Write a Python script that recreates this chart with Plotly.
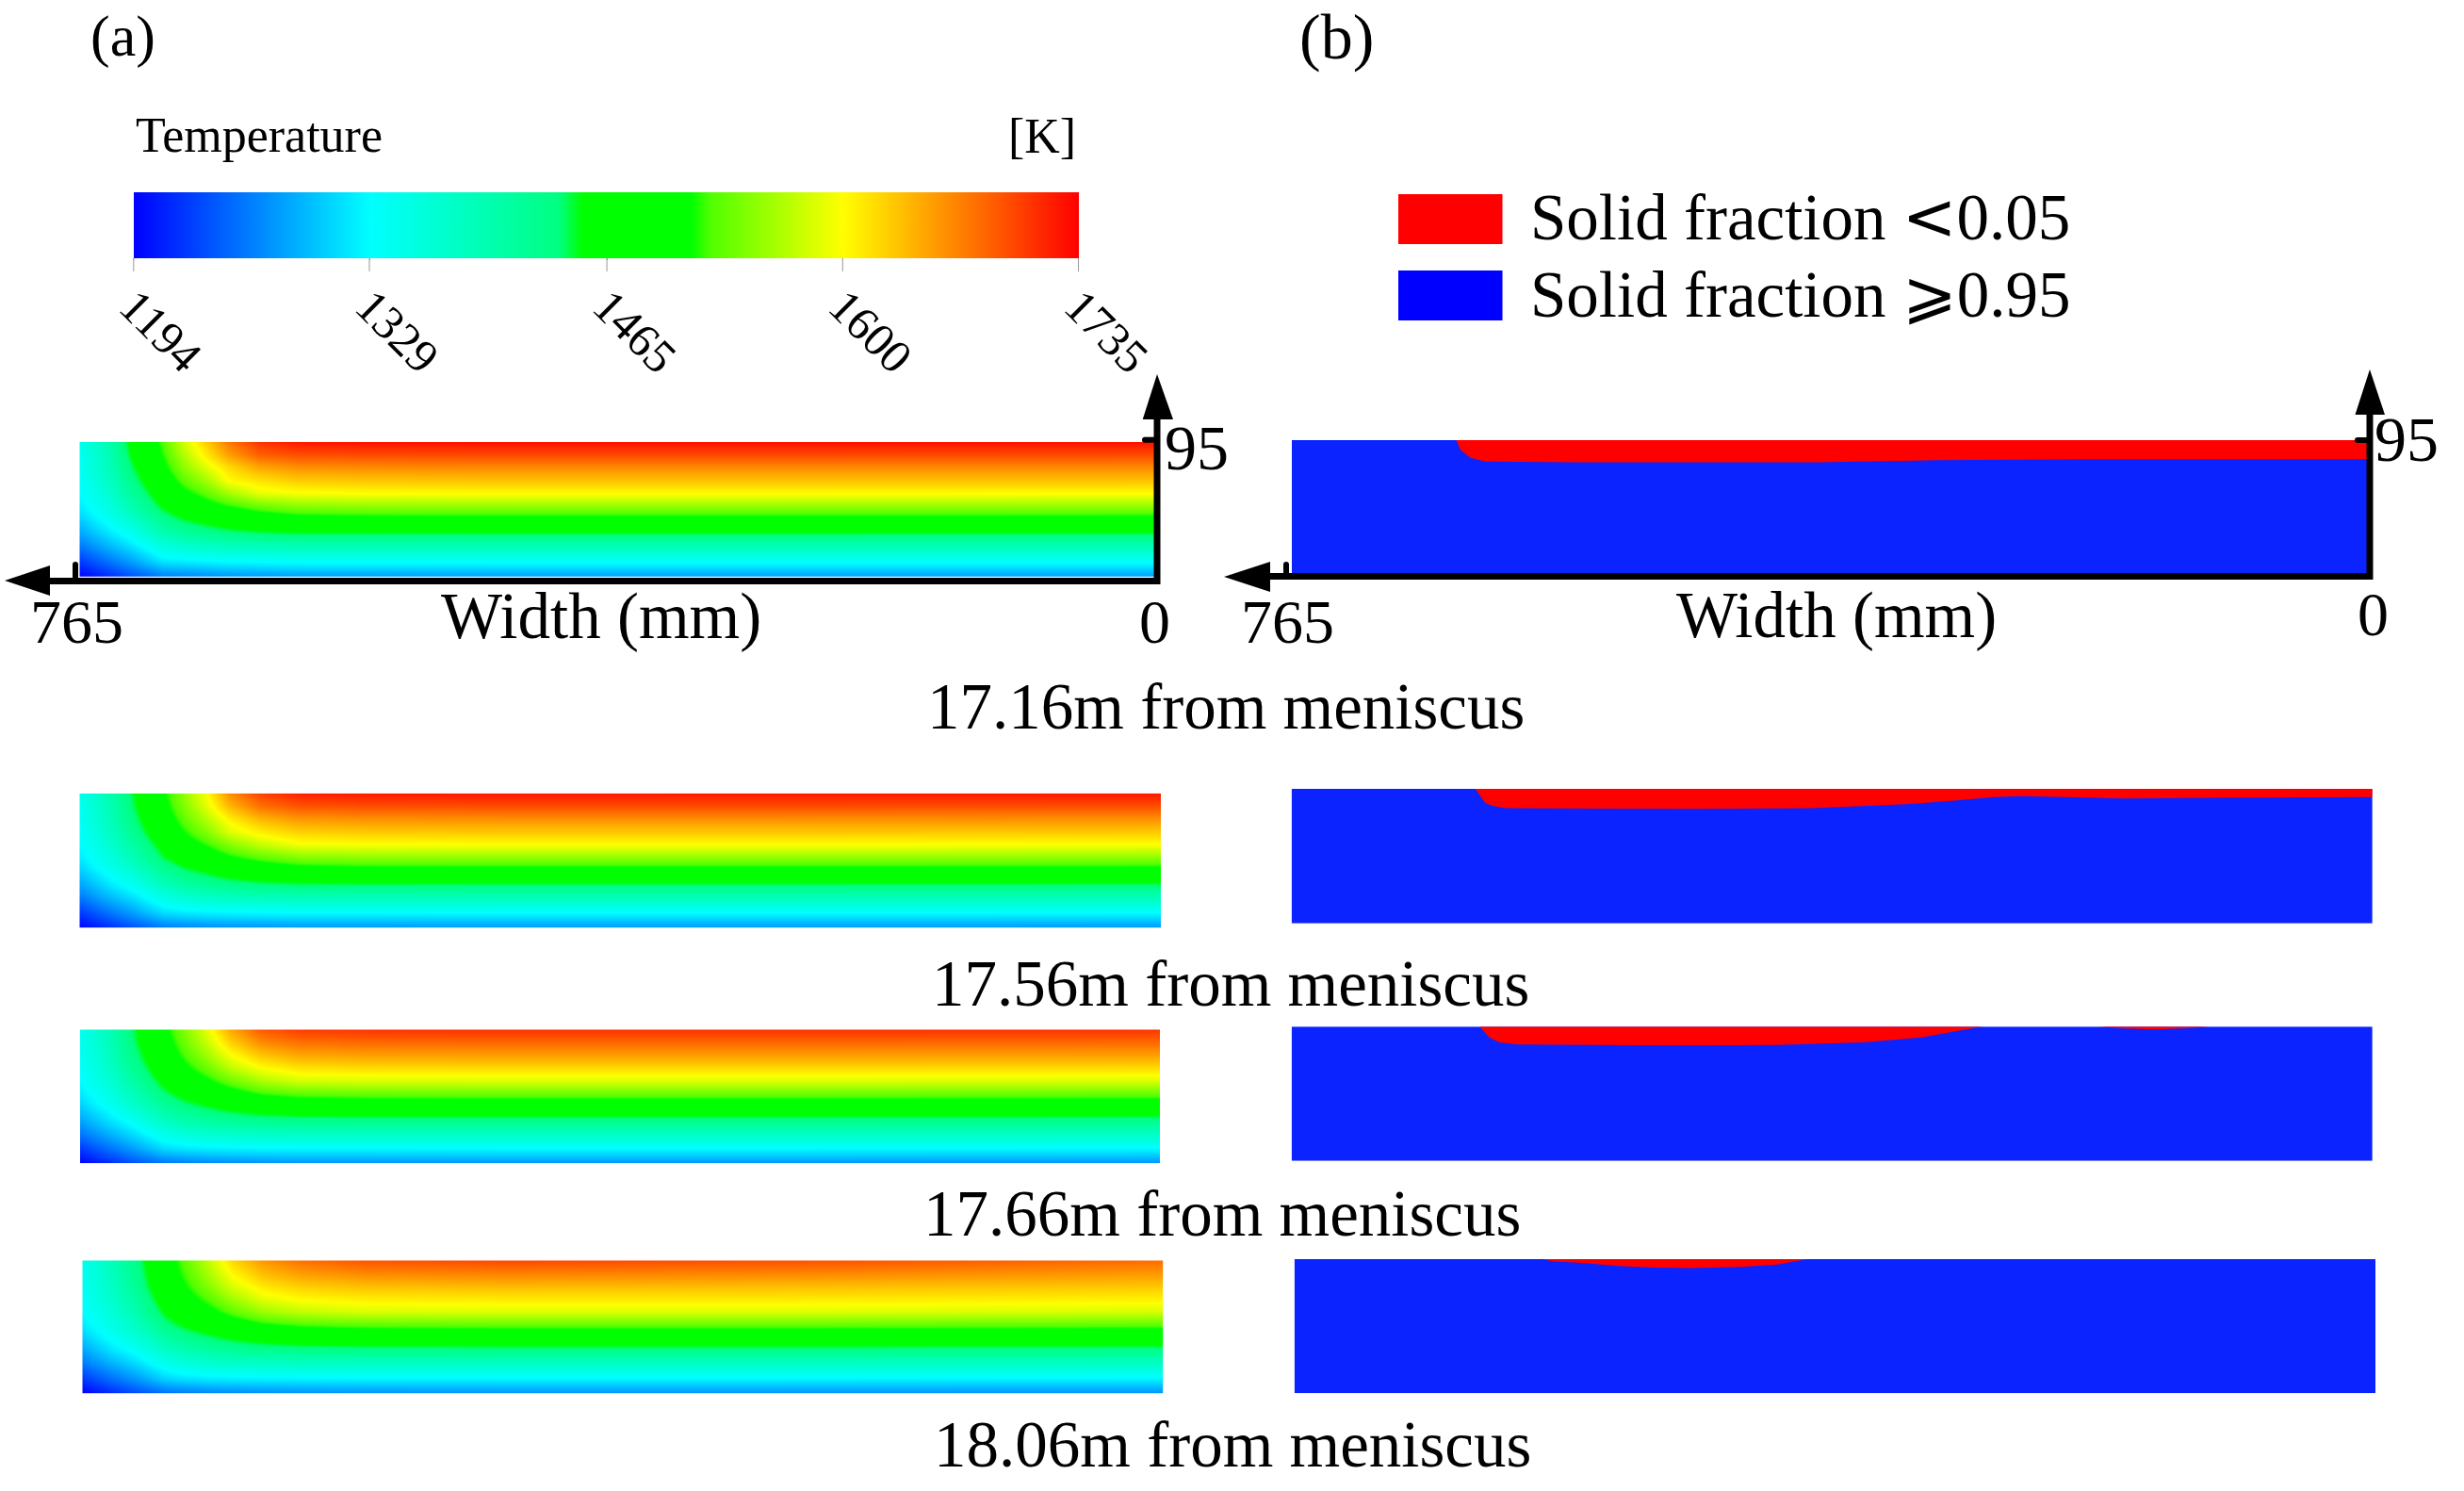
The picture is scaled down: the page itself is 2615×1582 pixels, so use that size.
import plotly.graph_objects as go

W, H = 2615, 1582
FONT = "Liberation Serif"

# ---------- data ----------
WIDTH_MM = [765, 745, 728, 706, 691, 675, 659, 637, 610, 565, 465, 265, 0]
DEPTH_MM = [0, 9, 18, 27, 36, 45, 52, 64, 72, 84, 95]

T_1716 = [
    [1343, 1392, 1458, 1525, 1580, 1625, 1670, 1708, 1722, 1725, 1726, 1726, 1725],
    [1341, 1389, 1451, 1516, 1565, 1608, 1648, 1682, 1692, 1694, 1695, 1695, 1694],
    [1338, 1384, 1440, 1504, 1549, 1585, 1617, 1646, 1657, 1660, 1661, 1661, 1661],
    [1333, 1376, 1427, 1489, 1528, 1558, 1600, 1614, 1626, 1629, 1631, 1631, 1631],
    [1328, 1366, 1412, 1472, 1505, 1530, 1560, 1590, 1597, 1600, 1601, 1601, 1600],
    [1319, 1353, 1394, 1452, 1477, 1498, 1515, 1535, 1547, 1551, 1552, 1552, 1552],
    [1308, 1343, 1378, 1432, 1455, 1470, 1485, 1500, 1512, 1515, 1516, 1516, 1515],
    [1282, 1316, 1342, 1394, 1412, 1425, 1435, 1442, 1447, 1447, 1448, 1448, 1447],
    [1262, 1294, 1320, 1360, 1375, 1385, 1392, 1397, 1400, 1400, 1400, 1400, 1400],
    [1225, 1256, 1280, 1318, 1322, 1326, 1330, 1332, 1335, 1335, 1335, 1335, 1335],
    [1194, 1215, 1235, 1258, 1262, 1266, 1270, 1272, 1275, 1275, 1276, 1276, 1276],
]
T_1756 = [
    [1343, 1390, 1445, 1510, 1555, 1600, 1660, 1700, 1718, 1722, 1723, 1722, 1722],
    [1341, 1388, 1440, 1503, 1545, 1588, 1636, 1674, 1689, 1692, 1693, 1693, 1692],
    [1338, 1383, 1432, 1493, 1532, 1568, 1607, 1638, 1654, 1658, 1659, 1659, 1658],
    [1333, 1375, 1421, 1480, 1515, 1546, 1585, 1608, 1624, 1628, 1629, 1629, 1628],
    [1328, 1366, 1406, 1462, 1495, 1519, 1547, 1575, 1595, 1598, 1599, 1599, 1598],
    [1319, 1353, 1390, 1444, 1468, 1488, 1510, 1529, 1545, 1550, 1551, 1551, 1550],
    [1308, 1343, 1375, 1424, 1447, 1462, 1480, 1496, 1509, 1513, 1514, 1514, 1513],
    [1282, 1316, 1340, 1388, 1408, 1420, 1430, 1438, 1443, 1444, 1444, 1444, 1443],
    [1262, 1294, 1318, 1356, 1372, 1382, 1389, 1394, 1397, 1397, 1398, 1398, 1397],
    [1225, 1256, 1279, 1314, 1320, 1324, 1326, 1328, 1330, 1330, 1330, 1330, 1330],
    [1194, 1215, 1235, 1256, 1261, 1265, 1268, 1270, 1272, 1272, 1273, 1273, 1272],
]
T_1766 = [
    [1343, 1388, 1440, 1503, 1546, 1590, 1645, 1688, 1703, 1707, 1709, 1709, 1707],
    [1341, 1386, 1436, 1497, 1537, 1578, 1624, 1662, 1676, 1680, 1681, 1681, 1680],
    [1338, 1381, 1428, 1487, 1524, 1559, 1597, 1630, 1646, 1650, 1651, 1651, 1650],
    [1333, 1374, 1418, 1474, 1508, 1537, 1572, 1600, 1616, 1620, 1621, 1621, 1620],
    [1328, 1364, 1404, 1457, 1488, 1510, 1536, 1565, 1582, 1585, 1586, 1586, 1585],
    [1319, 1351, 1388, 1438, 1462, 1480, 1500, 1522, 1533, 1537, 1538, 1538, 1537],
    [1308, 1341, 1373, 1418, 1440, 1455, 1470, 1486, 1494, 1497, 1498, 1498, 1497],
    [1282, 1314, 1338, 1382, 1400, 1412, 1420, 1426, 1430, 1431, 1431, 1431, 1430],
    [1262, 1292, 1316, 1352, 1368, 1376, 1382, 1385, 1387, 1388, 1388, 1388, 1387],
    [1225, 1254, 1277, 1310, 1318, 1322, 1324, 1326, 1327, 1327, 1328, 1328, 1327],
    [1194, 1215, 1235, 1254, 1260, 1264, 1267, 1270, 1272, 1272, 1273, 1273, 1272],
]
T_1806 = [
    [1343, 1385, 1428, 1495, 1535, 1575, 1620, 1655, 1675, 1690, 1696, 1692, 1677],
    [1341, 1383, 1424, 1490, 1528, 1565, 1604, 1636, 1653, 1664, 1668, 1665, 1655],
    [1338, 1378, 1418, 1481, 1516, 1549, 1584, 1612, 1626, 1634, 1637, 1635, 1630],
    [1333, 1371, 1409, 1469, 1502, 1529, 1560, 1590, 1603, 1610, 1612, 1612, 1608],
    [1328, 1362, 1396, 1453, 1483, 1505, 1530, 1558, 1574, 1584, 1586, 1586, 1583],
    [1319, 1350, 1382, 1434, 1458, 1476, 1495, 1515, 1527, 1534, 1536, 1536, 1534],
    [1308, 1340, 1368, 1414, 1436, 1451, 1465, 1480, 1490, 1495, 1496, 1496, 1494],
    [1282, 1314, 1336, 1378, 1396, 1408, 1417, 1424, 1428, 1430, 1431, 1431, 1430],
    [1262, 1292, 1314, 1348, 1364, 1373, 1379, 1383, 1385, 1386, 1386, 1386, 1385],
    [1225, 1254, 1275, 1308, 1316, 1320, 1322, 1324, 1325, 1326, 1326, 1326, 1325],
    [1194, 1215, 1233, 1252, 1258, 1263, 1266, 1268, 1270, 1271, 1272, 1272, 1271],
]

TEMP_TICKS = [1194, 1329, 1465, 1600, 1735]
TEMP_STOPS = [
    [0.0, "#0000ff"], [0.25, "#00ffff"], [0.45, "#00ff80"], [0.475, "#00ff00"],
    [0.59, "#00ff00"], [0.61, "#50ff00"], [0.75, "#ffff00"], [1.0, "#ff0000"],
]

# liquid pool outline: width (mm) from the centre, depth (mm) below the top surface
POOL_1716_W = [648, 645, 638, 627, 560, 475, 391, 306, 194, 0, 0]
POOL_1716_D = [0, 6.9, 12.7, 15.4, 15.8, 15.8, 15.8, 14.4, 13.7, 13.7, 0]
POOL_1756_W = [635, 628, 623, 613, 549, 472, 396, 330, 294, 268, 248, 217, 176, 115, 0, 0]
POOL_1756_D = [0, 9.8, 12, 13.6, 14, 14.2, 13.6, 10.9, 8.2, 5.8, 5.1, 5.8, 6.9, 6.4, 5.8, 0]
POOL_1766_W = [632, 625, 618, 605, 549, 483, 421, 360, 319, 294, 276]
POOL_1766_D = [0, 7.6, 11.1, 12.7, 12.9, 13.3, 12.9, 11.1, 7.6, 3.1, 0]
POOL_1766B_W = [194, 176, 154, 131, 115]
POOL_1766B_D = [0, 1.3, 2, 1.1, 0]
POOL_1806_W = [589, 582, 561, 536, 510, 485, 449, 423, 402]
POOL_1806_D = [0, 1.6, 2.7, 4.9, 6, 6.4, 5.5, 3.8, 0]

CAPTIONS = ["17.16m from meniscus", "17.56m from meniscus",
            "17.66m from meniscus", "18.06m from meniscus"]
THICKNESS_MM = 95
WIDTH_MAX = 765

# ---------- geometry (pixels) ----------
A_BOXES = [(84.3, 1225, 469, 611.7), (84.3, 1232, 841.7, 984.3),
           (85, 1231.3, 1092.3, 1234.3), (87.3, 1234.7, 1337.3, 1478.7)]
B_BOXES = [(1371, 2512, 467, 608), (1370.7, 2517.8, 837, 979.7),
           (1370.7, 2517.8, 1089.3, 1231.7), (1373.7, 2521, 1336, 1478.3)]
CAPTION_POS = [(1301, 750), (1306, 1044), (1297, 1288), (1308, 1533)]
BAR_LEFT, BAR_LEN, BAR_TOP, BAR_THICK = 141.8, 1002.7, 204, 70


def px(x):
    return x / W


def py(y):
    return 1 - y / H


fig = go.Figure()
layout_axes = {}


def make_axes(i, box):
    l, r, t, b = box
    sfx = "" if i == 1 else str(i)
    layout_axes["xaxis" + sfx] = dict(domain=[px(l), px(r)], range=[WIDTH_MAX, 0], visible=False,
                                      anchor="y" + sfx, fixedrange=True)
    layout_axes["yaxis" + sfx] = dict(domain=[py(b), py(t)], range=[0, THICKNESS_MM], visible=False,
                                      anchor="x" + sfx, fixedrange=True)
    return ("x" + sfx, "y" + sfx)


for k, (box, table) in enumerate(zip(A_BOXES, [T_1716, T_1756, T_1766, T_1806])):
    xa, ya = make_axes(k + 1, box)
    fig.add_trace(go.Heatmap(
        x=WIDTH_MM[::-1],
        y=[THICKNESS_MM - d for d in DEPTH_MM][::-1],
        z=[row[::-1] for row in table[::-1]],
        coloraxis="coloraxis", zsmooth="best", xaxis=xa, yaxis=ya, hoverinfo="skip",
    ))

pools = [
    [(POOL_1716_W, POOL_1716_D)],
    [(POOL_1756_W, POOL_1756_D)],
    [(POOL_1766_W, POOL_1766_D), (POOL_1766B_W, POOL_1766B_D)],
    [(POOL_1806_W, POOL_1806_D)],
]
SOLID = "#0a23ff"
for k, (box, outlines) in enumerate(zip(B_BOXES, pools)):
    xa, ya = make_axes(k + 5, box)
    fig.add_trace(go.Scatter(
        x=[WIDTH_MAX, 0, 0, WIDTH_MAX], y=[0, 0, THICKNESS_MM, THICKNESS_MM],
        fill="toself", fillcolor=SOLID, mode="none", xaxis=xa, yaxis=ya,
        showlegend=False, hoverinfo="skip",
    ))
    for ws, ds in outlines:
        fig.add_trace(go.Scatter(
            x=ws, y=[THICKNESS_MM - d for d in ds],
            fill="toself", fillcolor="#ff0000", mode="none", xaxis=xa, yaxis=ya,
            showlegend=False, hoverinfo="skip",
        ))

shapes = []


def line(x0, y0, x1, y1, w, color="black"):
    shapes.append(dict(type="line", xref="paper", yref="paper",
                       x0=px(x0), y0=py(y0), x1=px(x1), y1=py(y1),
                       line=dict(color=color, width=w)))


def poly(points, color="black"):
    path = "M " + " L ".join(f"{px(a):.6f} {py(b):.6f}" for a, b in points) + " Z"
    shapes.append(dict(type="path", xref="paper", yref="paper", path=path,
                       fillcolor=color, line=dict(width=0)))


def dot(x, y, r):
    shapes.append(dict(type="circle", xref="paper", yref="paper",
                       x0=px(x - r), x1=px(x + r), y0=py(y + r), y1=py(y - r),
                       fillcolor="black", line=dict(width=0)))


def rect(x0, y0, x1, y1, color):
    shapes.append(dict(type="rect", xref="paper", yref="paper",
                       x0=px(x0), x1=px(x1), y0=py(y1), y1=py(y0),
                       fillcolor=color, line=dict(width=0)))


# axes of panel (a)
line(1228, 620, 1228, 440, 7)
line(1231, 616.5, 50, 616.5, 7)
poly([(1228, 397), (1212.7, 445), (1245, 445)])
poly([(5, 616), (53, 600), (53, 632)])
line(1225, 466.7, 1215, 466.7, 6)
dot(1215, 466.7, 3)
line(80, 615, 80, 599, 6)
dot(80, 599, 3)
# axes of panel (b)
line(2515, 615, 2515, 435, 7)
line(2518, 611.5, 1345, 611.5, 7)
poly([(2515, 392), (2499.5, 440), (2531, 440)])
poly([(1299, 612), (1348, 596), (1348, 628)])
line(2512, 467, 2502, 467, 6)
dot(2502, 467, 3)
line(1365, 610, 1365, 599, 6)
dot(1365, 599, 3)
# legend swatches
rect(1484, 206, 1594.5, 259, "#ff0000")
rect(1484, 287, 1594.5, 340, "#0000ff")
# long colour-bar tick marks, placed by the bar's own scale
for tv in TEMP_TICKS:
    tx = BAR_LEFT + BAR_LEN * (tv - TEMP_TICKS[0]) / (TEMP_TICKS[-1] - TEMP_TICKS[0])
    line(tx, BAR_TOP + BAR_THICK, tx, BAR_TOP + BAR_THICK + 14, 1, "#999999")

annotations = []


def text(x, y, s, size, anchor="center", **extra):
    annotations.append(dict(xref="paper", yref="paper", x=px(x), y=py(y), text=s, showarrow=False,
                            xanchor=anchor, yanchor="middle",
                            font=dict(family=FONT, size=size, color="black"), **extra))


text(130, 38, "(a)", 62)
text(1418, 39, "(b)", 68)
text(142, 143, "Temperature", 52, "left")
text(1144, 144, "[K]", 52, "right")
text(1622, 230, 'Solid fraction <span style="font-family:DejaVu Sans">&lt;</span>0.05', 69, "left")
text(1622, 313, "Solid fraction ⩾0.95", 69, "left")
text(1234, 475, "95", 68, "left")
text(1225, 660, "0", 66)
text(81, 660, "765", 66)
text(638, 654, "Width (mm)", 69)
text(2518, 466, "95", 68, "left")
text(2518, 652, "0", 66)
text(1366, 660, "765", 66)
text(1949, 653, "Width (mm)", 69)
for (cx, cy), cap in zip(CAPTION_POS, CAPTIONS):
    text(cx, cy, cap, 69)

fig.update_layout(
    width=W, height=H, margin=dict(l=0, r=0, t=0, b=0), autosize=False,
    paper_bgcolor="white", plot_bgcolor="white", showlegend=False,
    shapes=shapes, annotations=annotations,
    coloraxis=dict(
        cmin=TEMP_TICKS[0], cmax=TEMP_TICKS[-1], colorscale=TEMP_STOPS,
        colorbar=dict(
            orientation="h", xref="paper", yref="paper",
            x=px(BAR_LEFT), xanchor="left", y=py(BAR_TOP), yanchor="top",
            len=BAR_LEN, lenmode="pixels", thickness=BAR_THICK, thicknessmode="pixels",
            xpad=0, ypad=0, outlinewidth=0,
            tickmode="array", tickvals=TEMP_TICKS, ticktext=[str(t) for t in TEMP_TICKS],
            ticks="outside", ticklen=2, tickwidth=1, tickcolor="#999999",
            tickangle=45, tickfont=dict(family=FONT, size=50, color="black"),
        ),
    ),
    **layout_axes,
)

fig.write_html("out.html", config=dict(displayModeBar=False),
               post_script="document.body.style.margin='0';document.body.style.overflow='hidden';")
